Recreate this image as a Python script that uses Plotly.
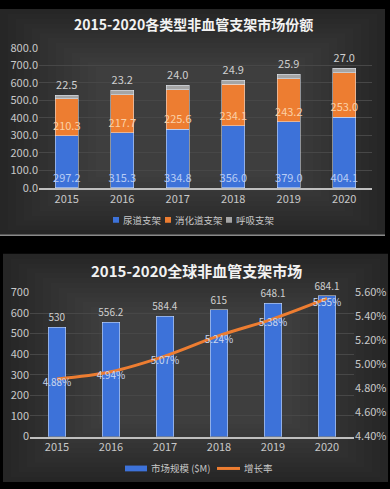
import plotly.graph_objects as go

years = ["2015", "2016", "2017", "2018", "2019", "2020"]
urethral = [297.2, 315.3, 334.8, 356.0, 379.0, 404.1]
digestive = [210.3, 217.7, 225.6, 234.1, 243.2, 253.0]
respiratory = [22.5, 23.2, 24.0, 24.9, 25.9, 27.0]
market = [530, 556.2, 584.4, 615, 648.1, 684.1]
market_labels = ["530", "556.2", "584.4", "615", "648.1", "684.1"]
growth = [4.88, 4.94, 5.07, 5.24, 5.38, 5.55]

W, H = 390, 489
FONT = "Noto Sans CJK SC"
BLUE = "#3d72d9"
ORANGE = "#ED7D31"
GRAY = "#A5A5A5"
TICK = "#c8c8c8"


def px(x):
    return x / W


def py(y):
    return 1 - y / H


fig = go.Figure()

# ---- top chart ----
fig.add_trace(go.Bar(
    x=years, y=urethral, name="尿道支架", marker_color=BLUE, width=0.42,
    text=[f"{v:.1f}" for v in urethral], textposition="inside",
    insidetextanchor="start", textangle=0, constraintext="none",
    textfont=dict(color="#b9cdf5", size=11, family=FONT),
    xaxis="x", yaxis="y", showlegend=False))
fig.add_trace(go.Bar(
    x=years, y=digestive, name="消化道支架", marker_color=ORANGE, width=0.42,
    text=[f"{v:.1f}" for v in digestive], textposition="inside",
    insidetextanchor="start", textangle=0, constraintext="none",
    textfont=dict(color="#fbd0a6", size=11, family=FONT),
    xaxis="x", yaxis="y", showlegend=False))
fig.add_trace(go.Bar(
    x=years, y=respiratory, name="呼吸支架", marker_color=GRAY, width=0.42,
    text=[f"{v:.1f}" for v in respiratory], textposition="outside",
    textangle=0, constraintext="none", cliponaxis=False,
    textfont=dict(color="#cfcfcf", size=11, family=FONT),
    xaxis="x", yaxis="y", showlegend=False))

# ---- bottom chart ----
fig.add_trace(go.Bar(
    x=years, y=market, name="市场规模 ($M)", marker_color=BLUE, width=0.33,
    text=market_labels, textposition="outside", textangle=0,
    constraintext="none", cliponaxis=False,
    textfont=dict(color="#cfcfcf", size=10, family=FONT),
    xaxis="x2", yaxis="y2", showlegend=False))
fig.add_trace(go.Scatter(
    x=years, y=growth, name="增长率", mode="lines+text",
    line=dict(color=ORANGE, width=3, shape="spline"),
    text=[f"{v:.2f}%" for v in growth], textposition="bottom center",
    textfont=dict(color="#c9d6ee", size=10, family=FONT),
    cliponaxis=False,
    xaxis="x2", yaxis="y3", showlegend=False))

shapes = []
annotations = []
# panel backgrounds (approximate radial gradient with layered rects)
for (x0, y0, x1, y1) in [(0, 0, 385, 234), (3, 253, 388, 489)]:
    shapes.append(dict(type="rect", xref="paper", yref="paper",
                       x0=px(x0), x1=px(x1), y0=py(y1), y1=py(y0),
                       fillcolor="#262626", line=dict(width=0), layer="below"))
    for i in range(1, 13):
        ix = i * 8
        iy = i * 5
        shapes.append(dict(type="rect", xref="paper", yref="paper",
                           x0=px(x0 + ix), x1=px(x1 - ix), y0=py(y1 - iy), y1=py(y0 + iy),
                           fillcolor="rgba(255,255,255,0.012)", line=dict(width=0), layer="below"))
# separator line under top panel
shapes.append(dict(type="line", xref="paper", yref="paper",
                   x0=px(0), x1=px(385), y0=py(234), y1=py(234),
                   line=dict(color="#8a8a8a", width=1.5), layer="below"))

# ---- custom legends (real text) ----
LEG_FONT = dict(color=TICK, size=9.5, family=FONT)
top_items = [("尿道支架", BLUE, 113), ("消化道支架", ORANGE, 165), ("呼吸支架", GRAY, 226)]
for name, col, x in top_items:
    shapes.append(dict(type="rect", xref="paper", yref="paper",
                       x0=px(x), x1=px(x + 6), y0=py(221), y1=py(215),
                       fillcolor=col, line=dict(width=0)))
    annotations.append(dict(text=name, x=px(x + 8), y=py(218), xref="paper", yref="paper",
                            showarrow=False, xanchor="left", yanchor="middle", font=LEG_FONT))

shapes.append(dict(type="rect", xref="paper", yref="paper",
                   x0=px(125), x1=px(147), y0=py(478), y1=py(472),
                   fillcolor=BLUE, line=dict(width=0)))
annotations.append(dict(text="市场规模 ($M)", x=px(149), y=py(475), xref="paper", yref="paper",
                        showarrow=False, xanchor="left", yanchor="middle", font=LEG_FONT))
shapes.append(dict(type="line", xref="paper", yref="paper",
                   x0=px(217), x1=px(240), y0=py(475), y1=py(475),
                   line=dict(color=ORANGE, width=3)))
annotations.append(dict(text="增长率", x=px(242), y=py(475), xref="paper", yref="paper",
                        showarrow=False, xanchor="left", yanchor="middle", font=LEG_FONT))

annotations += [
    dict(text="<b>2015-2020各类型非血管支架市场份额</b>", x=px(193), y=py(15),
         xref="paper", yref="paper", showarrow=False, xanchor="center", yanchor="middle",
         font=dict(color="#f2f2f2", size=14, family=FONT)),
    dict(text="<b>2015-2020全球非血管支架市场</b>", x=px(196), y=py(270),
         xref="paper", yref="paper", showarrow=False, xanchor="center", yanchor="middle",
         font=dict(color="#f2f2f2", size=15, family=FONT)),
]

axis_common = dict(showgrid=False, zeroline=False, fixedrange=True,
                   tickfont=dict(color=TICK, size=11, family=FONT))

fig.update_layout(
    width=W, height=H,
    margin=dict(l=0, r=0, t=0, b=0),
    paper_bgcolor="#000000",
    plot_bgcolor="rgba(0,0,0,0)",
    barmode="stack",
    bargap=0.5,
    showlegend=False,
    font=dict(family=FONT, color=TICK),
    shapes=shapes,
    annotations=annotations,
    xaxis=dict(domain=[px(39), px(372)], anchor="y", type="category",
               showline=True, linecolor="#bfbfbf", linewidth=1.5,
               ticks="", **axis_common),
    yaxis=dict(domain=[py(185), py(40)], anchor="x", range=[0, 800], dtick=100,
               tickformat=".1f", showgrid=True, gridcolor="#474747", gridwidth=1,
               showline=False, zeroline=False, fixedrange=True,
               tickfont=dict(color=TICK, size=11, family=FONT)),
    xaxis2=dict(domain=[px(30), px(354)], anchor="y2", type="category",
                showline=True, linecolor="#bfbfbf", linewidth=1.5,
                ticks="", **axis_common),
    yaxis2=dict(domain=[py(442), py(293)], anchor="x2", range=[0, 700], dtick=100,
                showgrid=True, gridcolor="#474747", gridwidth=1,
                showline=False, zeroline=False, fixedrange=True,
                tickfont=dict(color=TICK, size=11, family=FONT)),
    yaxis3=dict(overlaying="y2", anchor="x2", side="right", range=[4.4, 5.6],
                dtick=0.2, tickformat=".2f", ticksuffix="%", showgrid=False,
                zeroline=False, fixedrange=True,
                tickfont=dict(color=TICK, size=11, family=FONT)),
)

fig.write_html("out.html")
